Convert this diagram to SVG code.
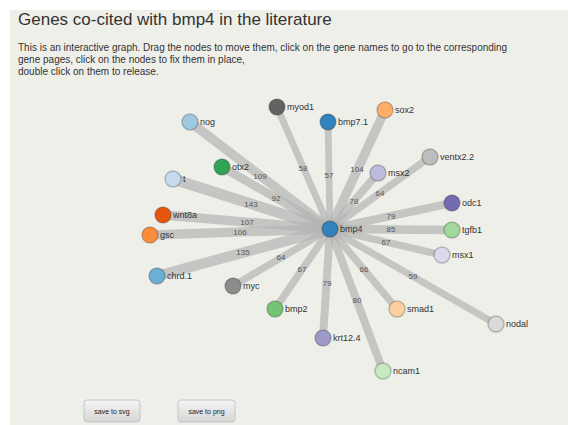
<svg xmlns="http://www.w3.org/2000/svg" width="568" height="425" viewBox="0 0 568 425">
<defs>
<linearGradient id="btn" x1="0" y1="0" x2="0" y2="1">
<stop offset="0" stop-color="#f4f4f4"/>
<stop offset="1" stop-color="#d6d6d6"/>
</linearGradient>
<style>
.title{font-family:"Liberation Sans",Arial,sans-serif;font-size:17px;fill:#333}
.desc{font-family:"Liberation Sans",Arial,sans-serif;font-size:10px;fill:#333}
.link{stroke:#b4b4b4;stroke-opacity:0.72;fill:none}
.el{font-family:"Liberation Sans",Arial,sans-serif;font-size:8px;fill:#555;text-anchor:middle}
.node circle{stroke:#000;stroke-opacity:0.22;stroke-width:1.5}
.node text{font-family:"Liberation Sans",Arial,sans-serif;font-size:9px;fill:#333}
.btn rect{fill:url(#btn);stroke:#c4c4c4}
.btn text{font-family:"Liberation Sans",Arial,sans-serif;font-size:7px;fill:#222;text-anchor:middle}
</style>
</defs>
<rect width="568" height="425" fill="#ffffff"/>
<rect x="10" y="10" width="558" height="415" fill="#efefea"/>
<text class="title" x="18" y="25">Genes co-cited with bmp4 in the literature</text>
<text class="desc" x="18" y="51">This is an interactive graph. Drag the nodes to move them, click on the gene names to go to the corresponding</text>
<text class="desc" x="18" y="63">gene pages, click on the nodes to fix them in place,</text>
<text class="desc" x="18" y="75">double click on them to release.</text>
<g id="links">
<line class="link" x1="330" y1="229" x2="190" y2="122" stroke-width="9.4"/>
<line class="link" x1="330" y1="229" x2="277" y2="107" stroke-width="6.9"/>
<line class="link" x1="330" y1="229" x2="328" y2="122" stroke-width="6.8"/>
<line class="link" x1="330" y1="229" x2="385" y2="110" stroke-width="9.2"/>
<line class="link" x1="330" y1="229" x2="378" y2="173" stroke-width="8"/>
<line class="link" x1="330" y1="229" x2="430" y2="157" stroke-width="7.2"/>
<line class="link" x1="330" y1="229" x2="222" y2="167" stroke-width="8.6"/>
<line class="link" x1="330" y1="229" x2="173" y2="179" stroke-width="10.8"/>
<line class="link" x1="330" y1="229" x2="163" y2="215" stroke-width="9.3"/>
<line class="link" x1="330" y1="229" x2="150" y2="235" stroke-width="9.3"/>
<line class="link" x1="330" y1="229" x2="157" y2="276" stroke-width="10.5"/>
<line class="link" x1="330" y1="229" x2="233" y2="286" stroke-width="7.2"/>
<line class="link" x1="330" y1="229" x2="275" y2="309" stroke-width="7.4"/>
<line class="link" x1="330" y1="229" x2="323" y2="338" stroke-width="8"/>
<line class="link" x1="330" y1="229" x2="383" y2="371" stroke-width="8"/>
<line class="link" x1="330" y1="229" x2="397" y2="309" stroke-width="7.3"/>
<line class="link" x1="330" y1="229" x2="496" y2="324" stroke-width="6.9"/>
<line class="link" x1="330" y1="229" x2="442" y2="255" stroke-width="7.4"/>
<line class="link" x1="330" y1="229" x2="452" y2="230" stroke-width="8.3"/>
<line class="link" x1="330" y1="229" x2="452" y2="203" stroke-width="8"/>
<text class="el" x="260" y="179">109</text>
<text class="el" x="303" y="171">58</text>
<text class="el" x="329" y="178">57</text>
<text class="el" x="357" y="172">104</text>
<text class="el" x="354" y="204">78</text>
<text class="el" x="380" y="196">64</text>
<text class="el" x="276" y="201">92</text>
<text class="el" x="251" y="207">143</text>
<text class="el" x="247" y="225">107</text>
<text class="el" x="240" y="235">106</text>
<text class="el" x="243" y="255">135</text>
<text class="el" x="281" y="260">64</text>
<text class="el" x="302" y="272">67</text>
<text class="el" x="327" y="286">79</text>
<text class="el" x="357" y="303">80</text>
<text class="el" x="364" y="272">66</text>
<text class="el" x="413" y="279">59</text>
<text class="el" x="386" y="245">67</text>
<text class="el" x="391" y="232">85</text>
<text class="el" x="391" y="219">79</text>
</g>
<g id="n-nog" class="node"><circle cx="190" cy="122" r="8" fill="#9ecae1"/><text x="200" y="125">nog</text></g>
<g id="n-myod1" class="node"><circle cx="277" cy="107" r="8" fill="#636363"/><text x="287" y="110">myod1</text></g>
<g id="n-bmp7" class="node"><circle cx="328" cy="122" r="8" fill="#3182bd"/><text x="338" y="125">bmp7.1</text></g>
<g id="n-sox2" class="node"><circle cx="385" cy="110" r="8" fill="#fdae6b"/><text x="395" y="113">sox2</text></g>
<g id="n-msx2" class="node"><circle cx="378" cy="173" r="8" fill="#bcbddc"/><text x="388" y="176">msx2</text></g>
<g id="n-ventx22" class="node"><circle cx="430" cy="157" r="8" fill="#bdbdbd"/><text x="440" y="160">ventx2.2</text></g>
<g id="n-otx2" class="node"><circle cx="222" cy="167" r="8" fill="#31a354"/><text x="232" y="170">otx2</text></g>
<g id="n-t" class="node"><circle cx="173" cy="179" r="8" fill="#c6dbef"/><text x="183" y="182">t</text></g>
<g id="n-wnt8a" class="node"><circle cx="163" cy="215" r="8" fill="#e6550d"/><text x="173" y="218">wnt8a</text></g>
<g id="n-gsc" class="node"><circle cx="150" cy="235" r="8" fill="#fd8d3c"/><text x="160" y="238">gsc</text></g>
<g id="n-chrd1" class="node"><circle cx="157" cy="276" r="8" fill="#6baed6"/><text x="167" y="279">chrd.1</text></g>
<g id="n-myc" class="node"><circle cx="233" cy="286" r="8" fill="#8c8c8c"/><text x="243" y="289">myc</text></g>
<g id="n-bmp2" class="node"><circle cx="275" cy="309" r="8" fill="#74c476"/><text x="285" y="312">bmp2</text></g>
<g id="n-krt" class="node"><circle cx="323" cy="338" r="8" fill="#9e9ac8"/><text x="333" y="341">krt12.4</text></g>
<g id="n-ncam1" class="node"><circle cx="383" cy="371" r="8" fill="#c7e9c0"/><text x="393" y="374">ncam1</text></g>
<g id="n-smad1" class="node"><circle cx="397" cy="309" r="8" fill="#fdd0a2"/><text x="407" y="312">smad1</text></g>
<g id="n-nodal" class="node"><circle cx="496" cy="324" r="8" fill="#d9d9d9"/><text x="506" y="327">nodal</text></g>
<g id="n-msx1" class="node"><circle cx="442" cy="255" r="8" fill="#dadaeb"/><text x="452" y="258">msx1</text></g>
<g id="n-tgfb1" class="node"><circle cx="452" cy="230" r="8" fill="#a1d99b"/><text x="462" y="233">tgfb1</text></g>
<g id="n-odc1" class="node"><circle cx="452" cy="203" r="8" fill="#756bb1"/><text x="462" y="206">odc1</text></g>
<g id="n-bmp4" class="node"><circle cx="330" cy="229" r="8" fill="#3182bd"/><text x="340" y="232">bmp4</text></g>
<g id="btn-svg" class="btn"><rect x="84" y="400" width="56" height="22" rx="3"/><text x="112" y="414">save to svg</text></g>
<g id="btn-png" class="btn"><rect x="178" y="400" width="57" height="22" rx="3"/><text x="206.5" y="414">save to png</text></g>
</svg>
